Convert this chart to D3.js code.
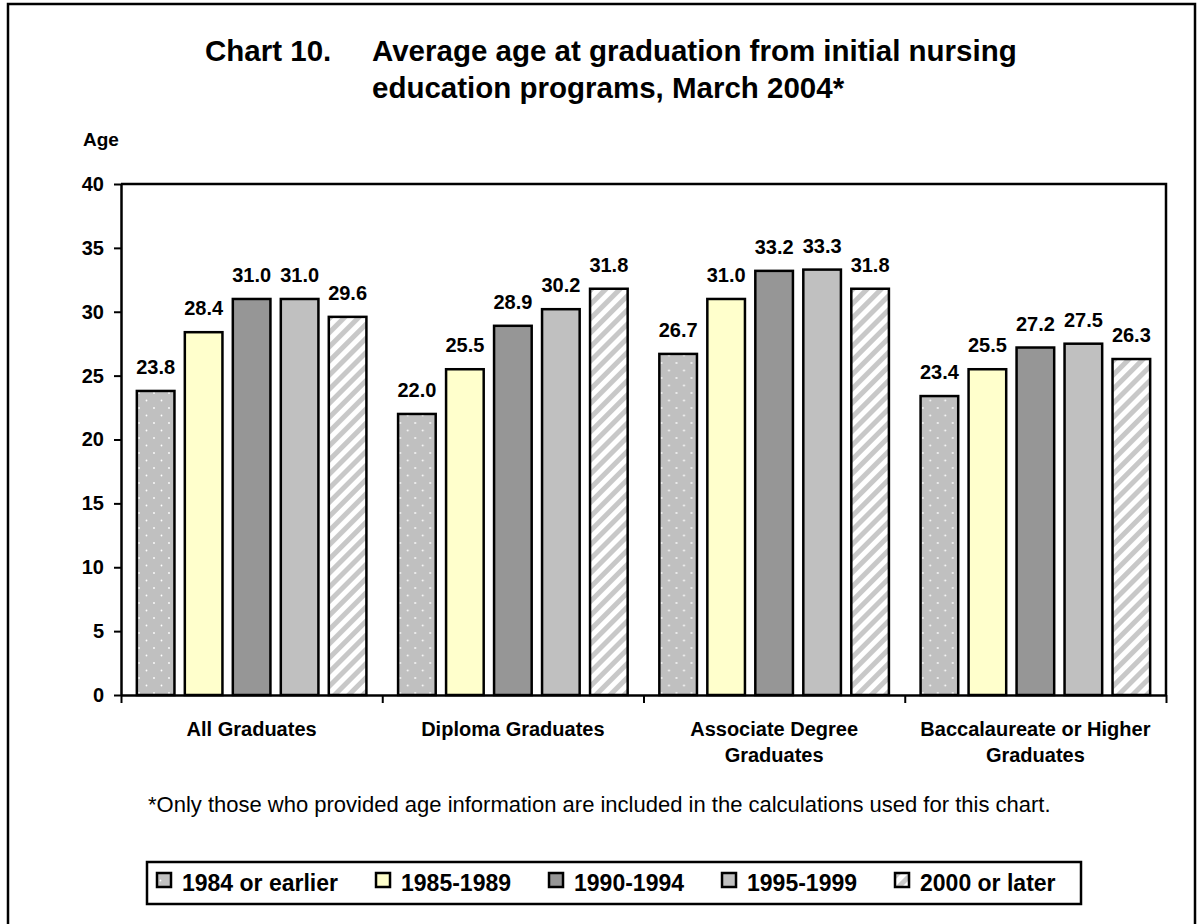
<!DOCTYPE html>
<html>
<head>
<meta charset="utf-8">
<script src="https://cdn.jsdelivr.net/npm/d3@7"></script>
<style>
  body { margin: 0; background: #fff; }
  svg text { font-family: Arial, "Liberation Sans", sans-serif; }
</style>
</head>
<body>
<div id="chart"></div>
<script>
// chart data
var categories = ['All Graduates', 'Diploma Graduates', 'Associate Degree\nGraduates', 'Baccalaureate or Higher\nGraduates'];
var seriesNames = ['1984 or earlier', '1985-1989', '1990-1994', '1995-1999', '2000 or later'];
var s1984 = [23.8, 22.0, 26.7, 23.4];
var s1985 = [28.4, 25.5, 31.0, 25.5];
var s1990 = [31.0, 28.9, 33.2, 27.2];
var s1995 = [31.0, 30.2, 33.3, 27.5];
var s2000 = [29.6, 31.8, 31.8, 26.3];
var yTicks = [0, 5, 10, 15, 20, 25, 30, 35, 40];

var seriesValues = [s1984, s1985, s1990, s1995, s2000];
var fills = ['url(#dots)', '#ffffcc', '#969696', '#c0c0c0', 'url(#stripes)'];

var width = 1199;
var height = 924;
var plotLeft = 121, plotRight = 1166, plotTop = 184, plotBottom = 695;

var svg = d3.select('#chart')
    .append('svg')
    .attr('width', width)
    .attr('height', height);

// patterns
var defs = svg.append('defs');
var dots = defs.append('pattern')
    .attr('id', 'dots')
    .attr('patternUnits', 'userSpaceOnUse')
    .attr('width', 15)
    .attr('height', 15);
dots.append('rect').attr('width', 15).attr('height', 15).attr('fill', '#c0c0c0');
dots.append('circle').attr('cx', 3).attr('cy', 3).attr('r', 0.9).attr('fill', '#fff');
dots.append('circle').attr('cx', 10.5).attr('cy', 10.5).attr('r', 0.9).attr('fill', '#fff');

var stripes = defs.append('pattern')
    .attr('id', 'stripes')
    .attr('patternUnits', 'userSpaceOnUse')
    .attr('width', 10)
    .attr('height', 10)
    .attr('patternTransform', 'rotate(45)');
stripes.append('rect').attr('width', 10).attr('height', 10).attr('fill', '#fff');
stripes.append('rect').attr('width', 5).attr('height', 10).attr('fill', '#c8c8c8');

// outer border
svg.append('rect')
    .attr('x', 8)
    .attr('y', 4)
    .attr('width', 1187)
    .attr('height', 940)
    .attr('fill', 'none')
    .attr('stroke', '#000')
    .attr('stroke-width', 2.5);

// title
var title = svg.append('g')
    .style('font-size', '29.5px')
    .style('font-weight', 'bold');
title.append('text').attr('x', 205).attr('y', 61).text('Chart 10.');
title.append('text').attr('x', 372).attr('y', 61).text('Average age at graduation from initial nursing');
title.append('text').attr('x', 372).attr('y', 98).text('education programs, March 2004*');

// scales
var x0 = d3.scaleBand()
    .domain(categories)
    .range([plotLeft, plotRight]);

var x1 = d3.scaleBand()
    .domain(seriesNames)
    .range([0, x0.bandwidth()])
    .paddingInner(0.216)
    .paddingOuter(0.33);

var y = d3.scaleLinear()
    .domain([0, 40])
    .range([plotBottom, plotTop]);

var xBound = d3.scaleLinear()
    .domain([0, categories.length])
    .range([plotLeft, plotRight]);

// plot frame (top and right)
svg.append('path')
    .attr('d', 'M' + plotLeft + ',' + plotTop + 'H' + plotRight + 'V' + plotBottom)
    .attr('fill', 'none')
    .attr('stroke', '#000')
    .attr('stroke-width', 2.5);

// bars
var groups = svg.append('g').attr('class', 'bars')
    .selectAll('g')
    .data(categories)
    .enter()
    .append('g')
    .attr('transform', function (d) { return 'translate(' + x0(d) + ',0)'; });

groups.selectAll('rect')
    .data(function (d, i) {
        return seriesNames.map(function (s, j) {
            return { series: s, idx: j, value: seriesValues[j][i] };
        });
    })
    .enter()
    .append('rect')
    .attr('x', function (d) { return x1(d.series); })
    .attr('y', function (d) { return y(d.value); })
    .attr('width', x1.bandwidth())
    .attr('height', function (d) { return y(0) - y(d.value); })
    .attr('fill', function (d) { return fills[d.idx]; })
    .attr('stroke', '#000')
    .attr('stroke-width', 2.5);

groups.selectAll('text')
    .data(function (d, i) {
        return seriesNames.map(function (s, j) {
            return { series: s, value: seriesValues[j][i] };
        });
    })
    .enter()
    .append('text')
    .attr('x', function (d) { return x1(d.series) + x1.bandwidth() / 2; })
    .attr('y', function (d) { return y(d.value) - 17; })
    .attr('text-anchor', 'middle')
    .style('font-size', '20px')
    .style('font-weight', 'bold')
    .text(function (d) { return d.value.toFixed(1); });

// y axis
var yAxis = svg.append('g')
    .attr('transform', 'translate(' + plotLeft + ',0)')
    .call(d3.axisLeft(y).tickValues(yTicks).tickSize(7).tickPadding(10).tickSizeOuter(0));
yAxis.select('.domain').attr('stroke-width', 2.5);
yAxis.selectAll('.tick line').attr('stroke-width', 2);
yAxis.selectAll('.tick text')
    .style('font-size', '20px')
    .style('font-weight', 'bold')
    .style('font-family', 'Arial, "Liberation Sans", sans-serif')
    .attr('fill', '#000');

svg.append('text')
    .attr('x', 83)
    .attr('y', 146)
    .style('font-size', '19px')
    .style('font-weight', 'bold')
    .text('Age');

// x axis
var xAxis = svg.append('g')
    .attr('transform', 'translate(0,' + plotBottom + ')')
    .call(d3.axisBottom(xBound).tickValues(d3.range(categories.length + 1)).tickFormat('').tickSize(8).tickSizeOuter(0));
xAxis.select('.domain').attr('stroke-width', 2.5);
xAxis.selectAll('.tick line').attr('stroke-width', 2);

// category labels
var catLabels = svg.append('g')
    .selectAll('text')
    .data(categories)
    .enter()
    .append('text')
    .attr('x', function (d) { return x0(d) + x0.bandwidth() / 2; })
    .attr('y', 736)
    .attr('text-anchor', 'middle')
    .style('font-size', '20px')
    .style('font-weight', 'bold');

catLabels.selectAll('tspan')
    .data(function (d) { return d.split('\n'); })
    .enter()
    .append('tspan')
    .attr('x', function () { return d3.select(this.parentNode).attr('x'); })
    .attr('dy', function (d, i) { return i === 0 ? 0 : 26; })
    .text(function (d) { return d; });

// footnote
svg.append('text')
    .attr('x', 148)
    .attr('y', 812)
    .style('font-size', '22px')
    .text('*Only those who provided age information are included in the calculations used for this chart.');

// legend
var legend = svg.append('g').attr('class', 'legend');
legend.append('rect')
    .attr('x', 147)
    .attr('y', 862)
    .attr('width', 934)
    .attr('height', 42)
    .attr('fill', '#fff')
    .attr('stroke', '#000')
    .attr('stroke-width', 2.5);

var lx = 157;
seriesNames.forEach(function (name, i) {
    legend.append('rect')
        .attr('x', lx)
        .attr('y', 873)
        .attr('width', 14)
        .attr('height', 14)
        .attr('fill', fills[i])
        .attr('stroke', '#000')
        .attr('stroke-width', 2.5);
    var t = legend.append('text')
        .attr('x', lx + 25)
        .attr('y', 891)
        .style('font-size', '23px')
        .style('font-weight', 'bold')
        .text(name);
    lx = lx + 25 + t.node().getComputedTextLength() + 38;
});
</script>
</body>
</html>
